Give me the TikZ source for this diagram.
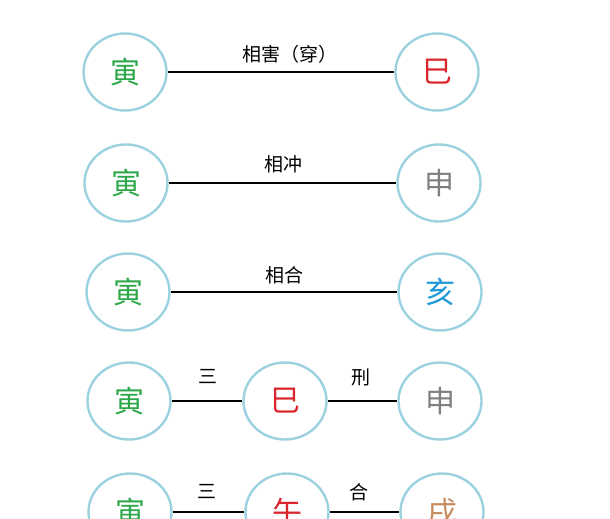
\documentclass[tikz,border=0pt]{standalone}
\usepackage{fontspec}
\setmainfont{Noto Sans CJK SC}
\usetikzlibrary{shapes.geometric}
\definecolor{ring}{HTML}{9CD2DF}
\definecolor{cgreen}{HTML}{2EA84A}
\definecolor{cred}{HTML}{D9252B}
\definecolor{cgray}{HTML}{7F7F7F}
\definecolor{cblue}{HTML}{1E9AD6}
\definecolor{cbrown}{HTML}{C58A5E}
\tikzset{
  zhi/.style={ellipse, draw=ring, line width=2.4pt, fill=white, minimum width=83pt, minimum height=77pt, inner sep=0pt, font=\fontsize{30}{30}\selectfont},
  link/.style={line width=2.8pt, black},
  lab/.style={font=\fontsize{19}{19}\selectfont, inner sep=0pt}
}
\begin{document}
\begin{tikzpicture}[x=1pt,y=-1pt]
\useasboundingbox (0,0) rectangle (610,519);
% row 1
\node[zhi, text=cgreen] (a1) at (125,72) {寅};
\node[zhi, text=cred] (b1) at (437,72) {巳};
\draw[link] (a1) -- (b1);
\node[lab] (l1) at (290,54) {相害（穿）};
% row 2
\node[zhi, text=cgreen] (a2) at (126,183) {寅};
\node[zhi, text=cgray] (b2) at (439,183) {申};
\draw[link] (a2) -- (b2);
\node[lab] (l2) at (283,164) {相冲};
% row 3
\node[zhi, text=cgreen] (a3) at (128,292) {寅};
\node[zhi, text=cblue] (b3) at (440,292) {亥};
\draw[link] (a3) -- (b3);
\node[lab] (l3) at (284,275) {相合};
% row 4
\node[zhi, text=cgreen] (a4) at (129,401) {寅};
\node[zhi, text=cred] (b4) at (285,401) {巳};
\node[zhi, text=cgray] (c4) at (440,401) {申};
\draw[link] (a4) -- (b4);
\draw[link] (b4) -- (c4);
\node[lab] (l4a) at (208,377) {三};
\node[lab] (l4b) at (361,377) {刑};
% row 5
\node[zhi, text=cgreen] (a5) at (130,512) {寅};
\node[zhi, text=cred] (b5) at (287,512) {午};
\node[zhi, text=cbrown] (c5) at (442,512) {戌};
\draw[link] (a5) -- (b5);
\draw[link] (b5) -- (c5);
\node[lab] (l5a) at (207,492) {三};
\node[lab] (l5b) at (359,492) {合};
\end{tikzpicture}
\end{document}
